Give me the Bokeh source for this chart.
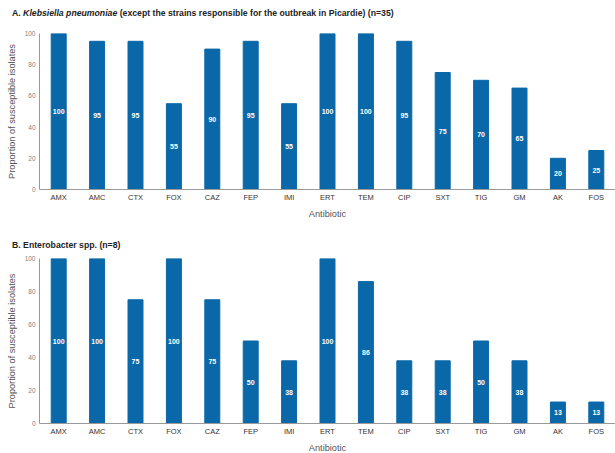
from bokeh.plotting import figure
from bokeh.layouts import column
from bokeh.models import ColumnDataSource, LabelSet, FactorRange, Range1d, Div
from bokeh.embed import file_html
from bokeh.resources import INLINE
from bokeh.core.properties import value

antibiotics = ["AMX", "AMC", "CTX", "FOX", "CAZ", "FEP", "IMI", "ERT", "TEM",
               "CIP", "SXT", "TIG", "GM", "AK", "FOS"]
kleb_values = [100, 95, 95, 55, 90, 95, 55, 100, 100, 95, 75, 70, 65, 20, 25]
entero_values = [100, 100, 75, 100, 75, 50, 38, 100, 86, 38, 38, 50, 38, 13, 13]
y_ticks = [0, 20, 40, 60, 80, 100]
title_a_parts = ["A.", "Klebsiella pneumoniae",
                 "(except the strains responsible for the outbreak in Picardie) (n=35)"]
title_b = "B. Enterobacter spp. (n=8)"
x_title = "Antibiotic"
y_title = "Proportion of susceptible isolates"

BAR = "#0a68a8"
FONT = "Liberation Sans"
LEFT = 39
FW = 615 - LEFT


def make_panel(vals, frame_h, top, bottom):
    src = ColumnDataSource(dict(
        cat=antibiotics, val=vals, mid=[v / 2 for v in vals],
        txt=[str(v) for v in vals]))
    p = figure(x_range=FactorRange(factors=antibiotics, range_padding=0),
               y_range=Range1d(0, 100), frame_width=FW, frame_height=frame_h,
               output_backend="svg", toolbar_location=None,
               min_border_left=LEFT, min_border_right=0,
               min_border_top=top, min_border_bottom=bottom)
    p.vbar(x="cat", top="val", width=0.39, source=src, color=BAR, line_color=BAR)
    p.add_layout(LabelSet(x="cat", y="mid", text="txt", source=src,
                          text_color="white", text_font_size="7px",
                          text_font=value(FONT), text_font_style="bold",
                          text_align="center", text_baseline="middle"))
    p.xgrid.visible = False
    p.ygrid.visible = False
    p.outline_line_color = None
    p.background_fill_color = "white"
    p.border_fill_color = "white"
    p.yaxis.ticker = y_ticks
    for ax in (p.xaxis[0], p.yaxis[0]):
        ax.major_tick_line_color = None
        ax.minor_tick_line_color = None
        ax.major_tick_out = 0
        ax.major_tick_in = 0
        ax.minor_tick_out = 0
        ax.minor_tick_in = 0
        ax.axis_line_color = "#9a9a9a"
        ax.axis_label_text_font = FONT
        ax.axis_label_text_font_style = "normal"
        ax.axis_label_text_color = "#555555"
        ax.axis_label_text_font_size = "9.2px"
        ax.major_label_text_font = FONT
    p.xaxis.major_label_text_font_size = "7.5px"
    p.xaxis.major_label_text_color = "#333333"
    p.xaxis.major_label_standoff = 3
    p.xaxis.axis_label_standoff = 4
    p.yaxis.major_label_text_font_size = "6.5px"
    p.yaxis.major_label_text_color = "#808080"
    p.yaxis.major_label_standoff = 4
    p.yaxis.axis_label_standoff = 5
    p.xaxis.axis_label = x_title
    p.yaxis.axis_label = y_title
    return p


def title_div(html, height, line_height):
    return Div(text=html, width=615, height=height,
               styles={"font-family": FONT, "font-size": "8.7px",
                       "font-weight": "bold", "color": "#222222",
                       "line-height": f"{line_height}px", "text-indent": "12px",
                       "white-space": "nowrap", "margin": "0", "padding": "0"})


div_a = title_div(f"{title_a_parts[0]} <i>{title_a_parts[1]}</i> {title_a_parts[2]}", 25, 26)
p1 = make_panel(kleb_values, 156, 8, 36)
div_b = title_div(title_b, 29, 40)
p2 = make_panel(entero_values, 165, 4, 28)

layout = column(div_a, p1, div_b, p2, spacing=0)
open("out.html", "w").write(file_html(layout, INLINE))
